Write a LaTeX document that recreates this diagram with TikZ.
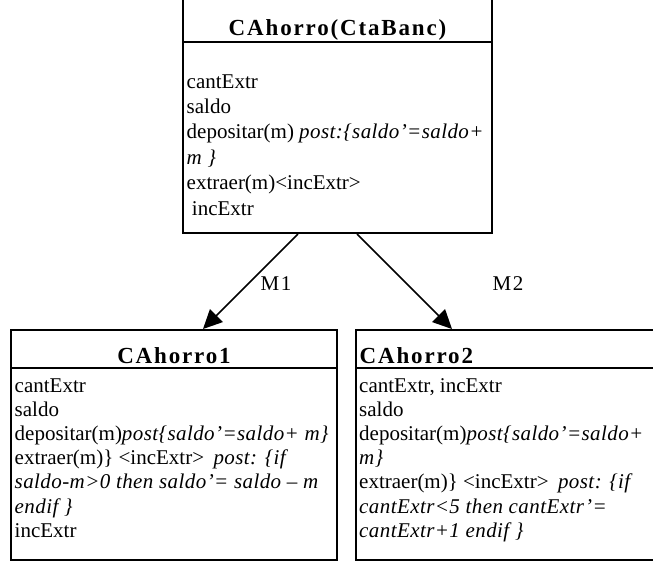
\documentclass[tikz,border=0pt]{standalone}
\usepackage{fontspec}
\setmainfont{Liberation Serif}[ItalicFeatures={LetterSpace=2},BoldFeatures={LetterSpace=8}]
\usetikzlibrary{arrows.meta}
\tikzset{
  box/.style={draw, line width=2pt, inner sep=0pt, fill=none},
  sepline/.style={line width=2pt},
  txt/.style={anchor=base west, inner sep=0pt, font=\fontsize{21pt}{24pt}\selectfont},
  ttl/.style={anchor=base, inner sep=0pt, font=\fontsize{23pt}{25pt}\selectfont\bfseries},
  lbl/.style={anchor=base, inner sep=0pt, font=\fontsize{21pt}{24pt}\selectfont\addfontfeatures{LetterSpace=8}},
  conn/.style={line width=1.5pt, -{Triangle[length=19pt,width=18pt]}}
}
\begin{document}
\begin{tikzpicture}[x=1pt,y=-1pt]
\useasboundingbox (0,0) rectangle (653,560);
\clip (0,0) rectangle (653,560);
\fill[white] (0,0) rectangle (653,560);
% boxes
\node[box, minimum width=309pt, minimum height=240pt] (cls) at (337.5,113) {};
\node[box, minimum width=326pt, minimum height=229.5pt] (c1) at (174,444.75) {};
\node[box, minimum width=344pt, minimum height=229.5pt] (c2) at (528,444.75) {};
% separators
\coordinate (s0) at (0,42);
\coordinate (s1) at (0,367.5);
\draw[sepline] (cls.west |- s0) -- (cls.east |- s0);
\draw[sepline] (c1.west |- s1) -- (c1.east |- s1);
\draw[sepline] (c2.west |- s1) -- (c2.east |- s1);
% top class
\node[ttl] (t0) at (337.5,35) {CAhorro(CtaBanc)};
\node[txt] (t1) at (186.5,88) {cantExtr};
\node[txt] (t2) at (186.5,113.4) {saldo};
\node[txt] (t3) at (186.5,138.8) {depositar(m) \textit{post:\{saldo’=saldo+}};
\node[txt] (t4) at (186.5,164.2) {\textit{m \}}};
\node[txt] (t5) at (186.5,189.6) {extraer(m)<incExtr>};
\node[txt] (t6) at (186.5,215) {\ incExtr};
% left class
\node[ttl] (a0) at (174,363) {CAhorro1};
\node[txt] (a1) at (14.5,392) {cantExtr};
\node[txt] (a2) at (14.5,416.2) {saldo};
\node[txt] (a3) at (14.5,440.4) {depositar(m)\textit{post\{saldo’=saldo+ m\}}};
\node[txt] (a4) at (14.5,464.6) {extraer(m)\} <incExtr>\hspace{0.45em}\textit{post: \{if}};
\node[txt] (a5) at (14.5,488.8) {\textit{saldo-m>0 then saldo’= saldo – m}};
\node[txt] (a6) at (14.5,513) {\textit{endif \}}};
\node[txt] (a7) at (14.5,537.2) {incExtr};
% right class
\node[ttl, anchor=base west] (b0) at (359.5,363) {CAhorro2};
\node[txt] (b1) at (359,392) {cantExtr, incExtr};
\node[txt] (b2) at (359,416.2) {saldo};
\node[txt] (b3) at (359,440.4) {depositar(m)\textit{post\{saldo’=saldo+}};
\node[txt] (b4) at (359,464.6) {\textit{m\}}};
\node[txt] (b5) at (359,488.8) {extraer(m)\} <incExtr>\hspace{0.45em}\textit{post: \{if}};
\node[txt] (b6) at (359,513) {\textit{cantExtr<5 then cantExtr’=}};
\node[txt] (b7) at (359,537.2) {\textit{cantExtr+1 endif \}}};
% connectors
\draw[conn] ([xshift=-39.5pt]cls.south) -- ([xshift=29pt]c1.north);
\draw[conn] ([xshift=19.5pt]cls.south) -- ([xshift=-76pt]c2.north);
\node[lbl] (m1) at (276,290) {M1};
\node[lbl] (m2) at (508,290) {M2};
\end{tikzpicture}
\end{document}
